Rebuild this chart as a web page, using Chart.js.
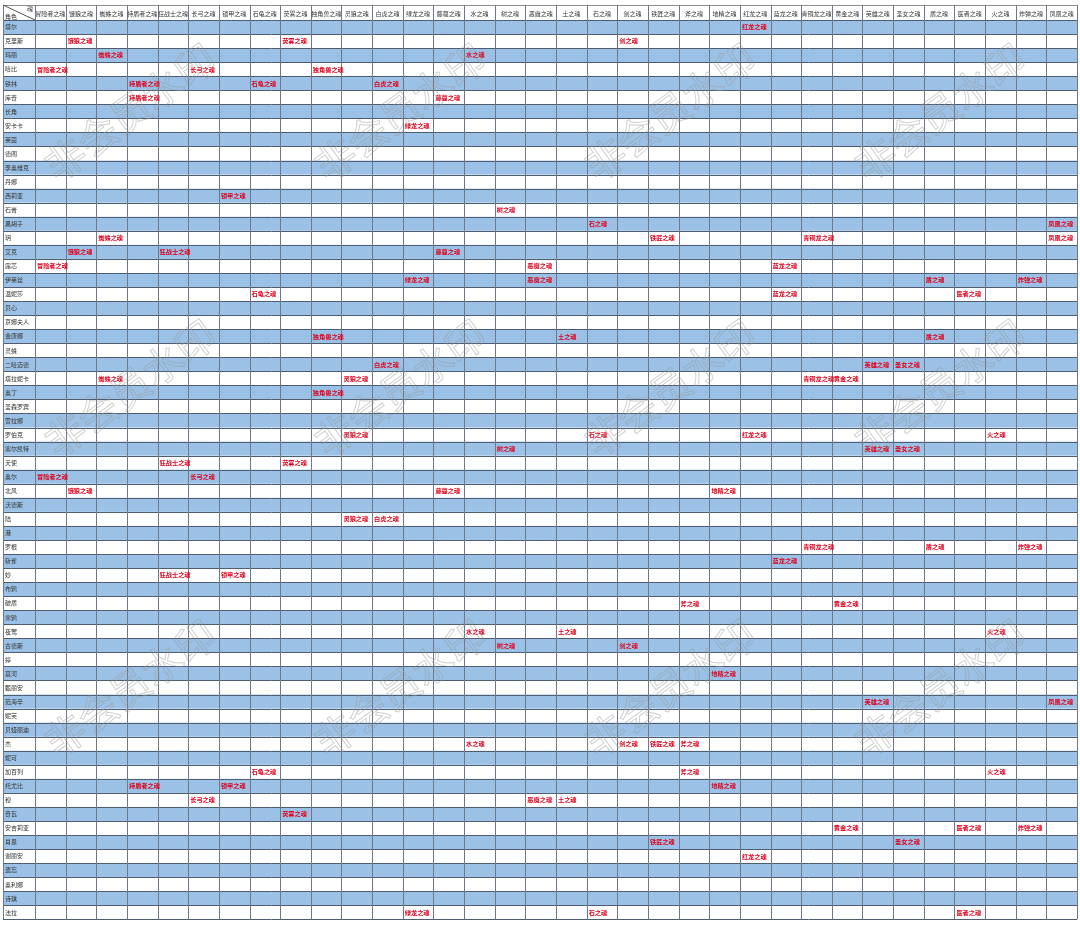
<!DOCTYPE html>
<html lang="zh">
<head>
  <meta charset="UTF-8">
  <title>角色 - 魂 对照表</title>
  <script src="https://cdn.jsdelivr.net/npm/chart.js"></script>
  <style>
    html, body {
      margin: 0;
      padding: 0;
      background: #fff;
    }
    #wrap {
      width: 1080px;
      height: 926px;
    }
  </style>
</head>
<body>
  <div id="wrap"><canvas id="soulChart" width="1080" height="926"></canvas></div>

  <script>
    // columns (魂)
    const souls = [
      '冒险者之魂', '饿狼之魂', '蜘蛛之魂', '持盾者之魂', '狂战士之魂', '长弓之魂', '锁甲之魂',
      '石龟之魂', '荧雾之魂', '独角兽之魂', '灵狼之魂', '白虎之魂', '绿龙之魂', '藤蔓之魂',
      '水之魂', '树之魂', '恶魔之魂', '土之魂', '石之魂', '剑之魂', '铁匠之魂', '斧之魂',
      '地精之魂', '红龙之魂', '蓝龙之魂', '青铜龙之魂', '黄金之魂', '英雄之魂', '圣女之魂',
      '盾之魂', '医者之魂', '火之魂', '炸弹之魂', '凤凰之魂'
    ];

    // rows (角色)
    const roles = [
      '塔尔', '克里斯', '玛丽', '哈比', '铁林', '库奇', '长角', '安卡卡', '莱茵', '德阁',
      '李奥维克', '丹娜', '西莉亚', '石膏', '黑胡子', '玥', '艾克', '露芯', '伊莱丝', '温妮莎',
      '贝心', '京娜夫人', '金唐娜', '灵蛛', '二哈迈德', '塔拉妮卡', '奥丁', '圣森罗宾', '雷拉娜', '罗伯克',
      '塞尔凯特', '天使', '奥尔', '北风', '沃德斯', '陆', '港', '罗根', '斩雀', '妙',
      '布鸦', '破盾', '寒鸦', '夜莺', '古德斯', '婷', '莫河', '甄丽安', '范海辛', '妮芙',
      '贝娅丽迪', '杰', '妮可', '加百列', '托尤比', '穆', '奇瓦', '安吉莉亚', '肖恩', '谢丽安',
      '遗忘', '奥利娜', '诗琪', '法拉'
    ];

    // which souls each role has (index into souls), same order as roles
    const owned = [
      [23], [1, 8, 19], [2, 14], [0, 5, 9], [3, 7, 11], [3, 13], [], [12], [], [],
      [], [], [6], [15], [18, 33], [2, 20, 25, 33], [1, 4, 13], [0, 16, 24], [12, 16, 29, 32], [7, 24, 30],
      [], [], [9, 17, 29], [], [11, 27, 28], [2, 10, 25, 26], [9], [], [], [10, 18, 23, 31],
      [15, 27, 28], [4, 8], [0, 5], [1, 13, 22], [], [10, 11], [], [25, 29, 32], [24], [4, 6],
      [], [21, 26], [], [14, 17, 31], [15, 19], [], [22], [], [27, 33], [],
      [], [14, 19, 20, 21], [], [7, 21, 31], [3, 6, 22], [5, 16, 17], [8], [26, 30, 32], [20, 28], [23],
      [], [], [], [12, 18, 30]
    ];

    const stripeColor = '#9bc2e6';
    const hLineColor = '#4f5d70';
    const vLineColor = '#6e7888';
    const cellText = '#e1001c';
    const watermark = '非会员水印';
    const markSpots = [
      [130, 112], [400, 112], [670, 112], [940, 112],
      [130, 388], [400, 388], [670, 388], [940, 388],
      [130, 688], [400, 688], [670, 688], [940, 688]
    ];

    Chart.defaults.font.family = "'Noto Sans CJK SC', 'Noto Sans', sans-serif";

    // category scales parse by label, so use the names
    const cells = [];
    owned.forEach((cols, r) => cols.forEach(c => cells.push({ x: souls[c], y: roles[r] })));

    const crisp = v => Math.round(v) + 0.5;

    const tablePlugin = {
      id: 'table',
      beforeDraw(chart) {
        const { ctx, scales: { x, y } } = chart;
        const rowH = y.getPixelForValue(1) - y.getPixelForValue(0);
        const colW = x.getPixelForValue(1) - x.getPixelForValue(0);
        const L = y.left - 2, R = x.right, T = x.top, H = y.top, B = y.bottom;

        ctx.save();
        ctx.fillStyle = '#fff';
        ctx.fillRect(0, 0, chart.width, chart.height);

        // stripes
        ctx.fillStyle = stripeColor;
        roles.forEach((_, i) => {
          if (i % 2 === 0) {
            const cy = y.getPixelForValue(i);
            ctx.fillRect(L, cy - rowH / 2, R - L, rowH);
          }
        });

        // horizontal lines
        ctx.lineWidth = 1;
        ctx.strokeStyle = hLineColor;
        ctx.beginPath();
        for (let i = 0; i <= roles.length; i++) {
          const yy = crisp(y.getPixelForValue(0) - rowH / 2 + i * rowH);
          ctx.moveTo(L, yy);
          ctx.lineTo(R, yy);
        }
        ctx.stroke();

        // header top line
        ctx.strokeStyle = '#8a8f96';
        ctx.beginPath();
        ctx.moveTo(L, crisp(T));
        ctx.lineTo(R, crisp(T));
        ctx.stroke();

        // vertical lines
        ctx.strokeStyle = vLineColor;
        ctx.beginPath();
        for (let j = 0; j <= souls.length; j++) {
          const xx = crisp(x.getPixelForValue(0) - colW / 2 + j * colW);
          ctx.moveTo(xx, T);
          ctx.lineTo(xx, B);
        }
        ctx.moveTo(crisp(L), T);
        ctx.lineTo(crisp(L), B);
        ctx.stroke();

        // corner cell
        ctx.strokeStyle = '#555';
        ctx.beginPath();
        ctx.moveTo(L, T);
        ctx.lineTo(x.left, H);
        ctx.stroke();
        ctx.fillStyle = '#333';
        ctx.font = "6px 'Noto Sans CJK SC'";
        ctx.textBaseline = 'middle';
        ctx.textAlign = 'right';
        ctx.fillText('魂', x.left - 2, T + 4);
        ctx.textAlign = 'left';
        ctx.fillText('角色', L + 2, H - 3);
        ctx.restore();
      },
      afterDatasetsDraw(chart) {
        const { ctx, scales: { x } } = chart;
        const colW = x.getPixelForValue(1) - x.getPixelForValue(0);
        const meta = chart.getDatasetMeta(0);
        const data = chart.data.datasets[0].data;
        ctx.save();
        ctx.fillStyle = cellText;
        ctx.font = "bold 6.2px 'Noto Sans CJK SC'";
        ctx.textAlign = 'left';
        ctx.textBaseline = 'middle';
        meta.data.forEach((pt, k) => {
          ctx.fillText(data[k].x, pt.x - colW / 2 + 2, pt.y);
        });
        ctx.restore();
      },
      afterDraw(chart) {
        const { ctx } = chart;
        ctx.save();
        ctx.font = "40px 'Noto Sans CJK SC'";
        ctx.textAlign = 'center';
        ctx.textBaseline = 'middle';
        ctx.strokeStyle = 'rgba(150,150,150,0.45)';
        ctx.lineWidth = 1;
        markSpots.forEach(([cx, cy]) => {
          ctx.save();
          ctx.translate(cx, cy);
          ctx.rotate(-36 * Math.PI / 180);
          ctx.strokeText(watermark, 0, 0);
          ctx.restore();
        });
        ctx.restore();
      }
    };

    const ctx = document.getElementById('soulChart').getContext('2d');

    new Chart(ctx, {
      type: 'scatter',
      data: {
        datasets: [{
          label: '魂',
          data: cells,
          pointRadius: 0,
          pointHoverRadius: 0,
          showLine: false
        }]
      },
      options: {
        responsive: false,
        animation: false,
        events: [],
        layout: {
          padding: { left: 5, top: 5, right: 3, bottom: 6 }
        },
        plugins: {
          legend: { display: false },
          tooltip: { enabled: false }
        },
        scales: {
          x: {
            type: 'category',
            labels: souls,
            position: 'top',
            offset: true,
            grid: { display: false, drawTicks: false },
            border: { display: false },
            ticks: {
              autoSkip: false,
              maxRotation: 0,
              minRotation: 0,
              padding: 3,
              color: '#333',
              font: { size: 6 }
            },
            afterFit: s => { s.height = 15; }
          },
          y: {
            type: 'category',
            labels: roles,
            offset: true,
            grid: { display: false, drawTicks: false },
            border: { display: false },
            ticks: {
              autoSkip: false,
              crossAlign: 'far',
              color: '#333',
              font: { size: 6 }
            },
            afterFit: s => { s.width = 30; }
          }
        }
      },
      plugins: [tablePlugin]
    });
  </script>
</body>
</html>
